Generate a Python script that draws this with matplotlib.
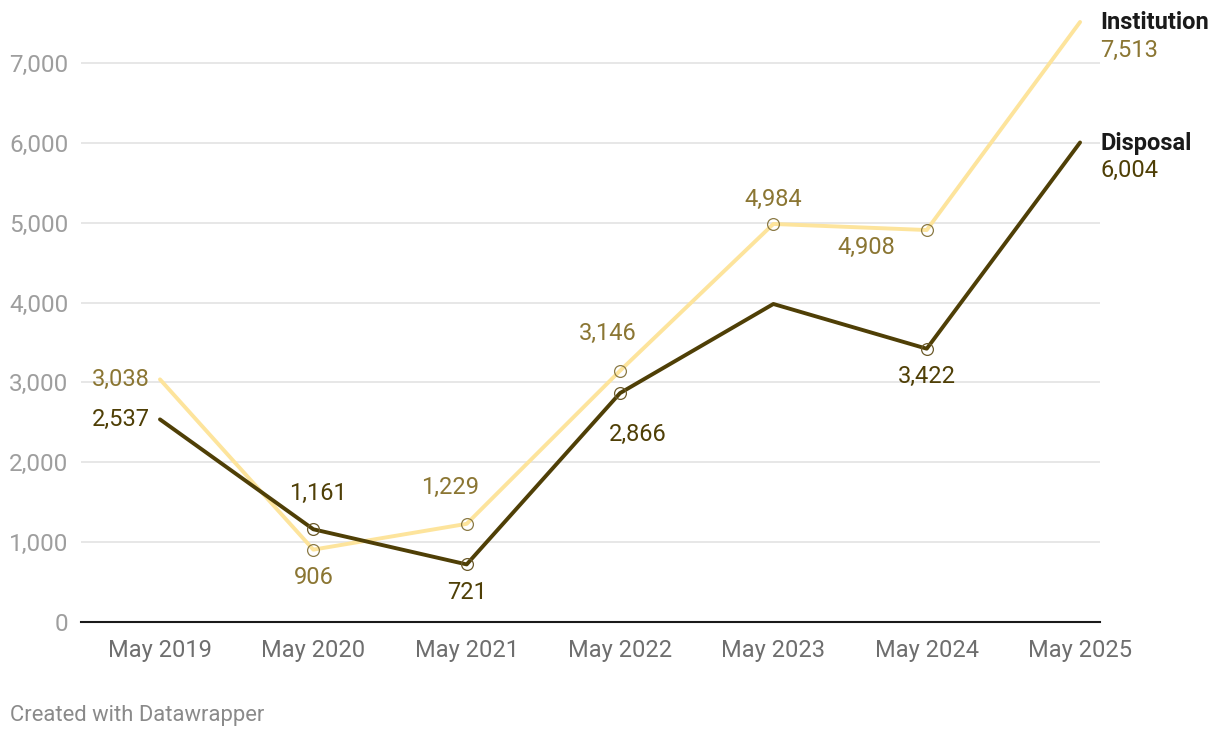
import matplotlib
matplotlib.use("Agg")
import matplotlib.pyplot as plt

plt.rcParams['font.family'] = ['Roboto', 'DejaVu Sans']

years = ['May 2019', 'May 2020', 'May 2021', 'May 2022', 'May 2023', 'May 2024', 'May 2025']
institution = [3038, 906, 1229, 3146, 4984, 4908, 7513]
disposal = [2537, 1161, 721, 2866, 3982, 3422, 6004]

# which points get an open circle marker
inst_marked = [1, 2, 3, 4, 5]
disp_marked = [1, 2, 3, 5]

# label offsets in pixels (dx, dy), None = no label
inst_offsets = [(-10, 0, 'right'), (0, -28, 'center'), (-17, 36, 'center'), (-12, 37, 'center'),
                (0, 24, 'center'), (-60, -17, 'center'), None]
disp_offsets = [(-10, 0, 'right'), (5, 36, 'center'), (0, -28, 'center'), (18, -41, 'center'),
                None, (0, -28, 'center'), None]

inst_line = '#fde49c'
inst_text = '#8b7633'
disp_line = '#4f3f06'
disp_text = '#4f3f06'

fig = plt.figure(figsize=(12.2, 7.38), dpi=100)
ax = fig.add_axes([81 / 1220, 1 - 622 / 738, (1100 - 81) / 1220, (622 - 10) / 738])

x = list(range(len(years)))
ax.plot(x, institution, color=inst_line, lw=2.8, solid_capstyle='round', zorder=3)
ax.plot(x, disposal, color=disp_line, lw=2.8, solid_capstyle='round', zorder=4)

ax.plot([x[i] for i in inst_marked], [institution[i] for i in inst_marked], 'o', ms=8.5,
        mfc='none', mec='#8b7a45', mew=0.9, zorder=5)
ax.plot([x[i] for i in disp_marked], [disposal[i] for i in disp_marked], 'o', ms=8.5,
        mfc='none', mec='#6b5a2a', mew=0.9, zorder=5)

for vals, offs, col in [(institution, inst_offsets, inst_text), (disposal, disp_offsets, disp_text)]:
    for i, o in enumerate(offs):
        if o is None:
            continue
        dx, dy, ha = o
        ax.annotate(f'{vals[i]:,}', (x[i], vals[i]), xytext=(dx, dy), textcoords='offset pixels',
                    ha=ha, va='center', fontsize=17, color=col, zorder=6)

# end labels
for name, vals, col in [('Institution', institution, inst_text), ('Disposal', disposal, disp_text)]:
    ax.annotate(name, (x[-1], vals[-1]), xytext=(20, -1), textcoords='offset pixels',
                ha='left', va='center', fontsize=17, fontweight='bold', color='#1a1a1a',
                annotation_clip=False)
    ax.annotate(f'{vals[-1]:,}', (x[-1], vals[-1]), xytext=(20, -28), textcoords='offset pixels',
                ha='left', va='center', fontsize=17, color=col, annotation_clip=False)

ax.set_xlim(-0.515, 6.13)
ax.set_ylim(0, 7663)
ax.set_yticks(range(0, 8000, 1000))
ax.set_yticklabels([f'{v:,}' for v in range(0, 8000, 1000)])
ax.set_xticks(x)
ax.set_xticklabels(years)
ax.grid(axis='y', color='#e3e3e3', lw=1.2, zorder=0)
ax.tick_params(axis='y', length=0, pad=9, labelsize=17.5, labelcolor='#9e9e9e')
ax.tick_params(axis='x', length=0, pad=12, labelsize=17, labelcolor='#6e6e6e')
for s in ['top', 'right', 'left']:
    ax.spines[s].set_visible(False)
ax.spines['bottom'].set_color('#1a1a1a')
ax.spines['bottom'].set_linewidth(1.5)
ax.set_axisbelow(True)

fig.text(10 / 1220, 1 - 715 / 738, 'Created with Datawrapper', fontsize=15.8, color='#8a8a8a',
         ha='left', va='center')

fig.savefig('out.png', dpi=100)
